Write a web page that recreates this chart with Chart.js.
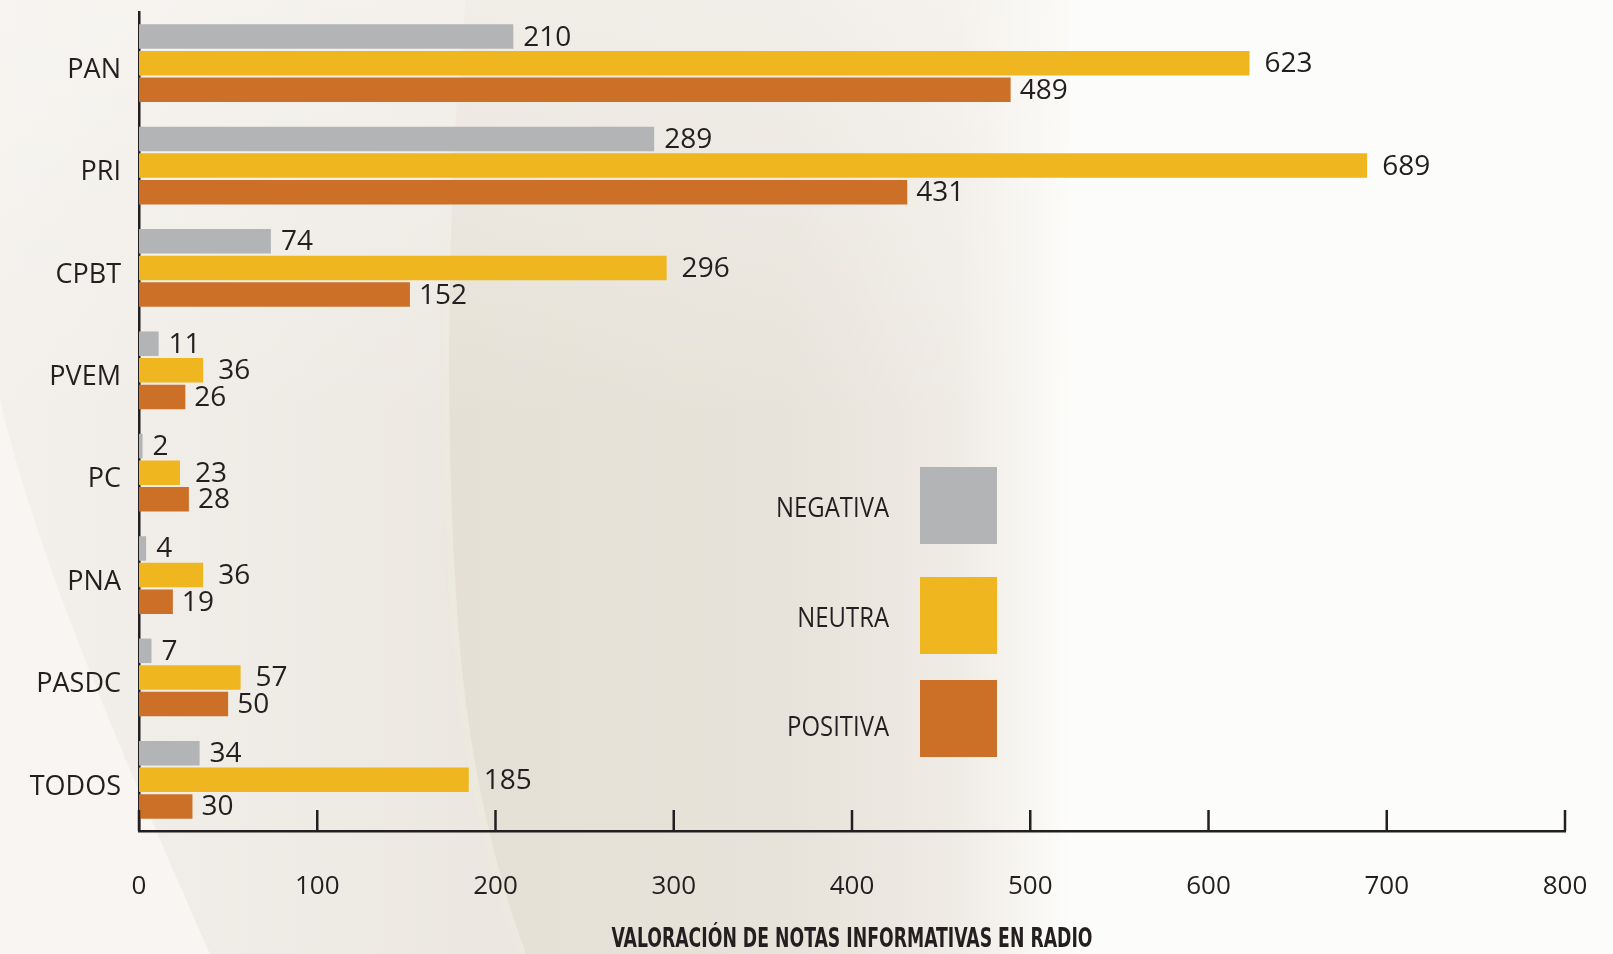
<!DOCTYPE html>
<html>
<head>
<meta charset="utf-8">
<script src="https://cdn.jsdelivr.net/npm/chart.js@4"></script>
<style>
  html, body { margin: 0; padding: 0; background: #f6f3ef; }
  #wrap { width: 1613px; height: 954px; position: relative; }
</style>
</head>
<body>
<div id="wrap"><canvas id="canvas"></canvas></div>
<script>
/* Data. */
const parties = ["PAN", "PRI", "CPBT", "PVEM", "PC", "PNA", "PASDC", "TODOS"]
const negativa = [210, 289, 74, 11, 2, 4, 7, 34]
const neutra = [623, 689, 296, 36, 23, 36, 57, 185]
const positiva = [489, 431, 152, 26, 28, 19, 50, 30]
const seriesNames = ["NEGATIVA", "NEUTRA", "POSITIVA"]
const xTicks = [0, 100, 200, 300, 400, 500, 600, 700, 800]
const axisTitle = "VALORACIÓN DE NOTAS INFORMATIVAS EN RADIO"

const ink = "#231f20"
const colors = ["#b3b4b6", "#efb61f", "#cc7028"]
const labelGaps = [10, 15, 9]

/* Paper background with the beige swoosh. */
const background = {
  id: "background",
  beforeDraw: chart => {
    const ctx = chart.ctx
    const w = chart.width
    const h = chart.height
    ctx.save()
    ctx.fillStyle = "#fcfcfa"
    ctx.fillRect(0, 0, w, h)

    /* left part, up to the swoosh edge */
    let g = ctx.createLinearGradient(0, 0, 470, 0)
    g.addColorStop(0, "#f3f0ec")
    g.addColorStop(1, "#ece8e1")
    ctx.fillStyle = g
    ctx.beginPath()
    ctx.moveTo(0, 0)
    ctx.lineTo(470, 0)
    ctx.lineTo(530, h)
    ctx.lineTo(0, h)
    ctx.closePath()
    ctx.fill()

    /* main beige area */
    g = ctx.createLinearGradient(440, 0, 1070, 0)
    g.addColorStop(0, "#e5e0d5")
    g.addColorStop(0.55, "#e7e3da")
    g.addColorStop(0.82, "#efebe5")
    g.addColorStop(0.93, "#f8f6f2")
    g.addColorStop(1, "#fcfcfa")
    ctx.fillStyle = g
    ctx.beginPath()
    ctx.moveTo(458, 0)
    ctx.bezierCurveTo(440, 150, 436, 420, 449, 608)
    ctx.bezierCurveTo(458, 760, 490, 880, 518, h)
    ctx.lineTo(1070, h)
    ctx.lineTo(1070, 0)
    ctx.closePath()
    ctx.fill()

    /* lighter towards the top */
    g = ctx.createLinearGradient(0, 0, 0, 420)
    g.addColorStop(0, "rgba(250, 248, 245, 0.55)")
    g.addColorStop(1, "rgba(250, 248, 245, 0)")
    ctx.fillStyle = g
    ctx.fillRect(0, 0, 1070, 420)

    /* soft highlight along the swoosh edge */
    ctx.strokeStyle = "rgba(250, 248, 244, 0.35)"
    ctx.lineWidth = 8
    ctx.beginPath()
    ctx.moveTo(462, 0)
    ctx.bezierCurveTo(444, 150, 440, 420, 453, 608)
    ctx.bezierCurveTo(462, 760, 494, 880, 522, h)
    ctx.stroke()

    /* light area bottom left */
    ctx.fillStyle = "#f8f5f2"
    ctx.beginPath()
    ctx.moveTo(0, 400)
    ctx.bezierCurveTo(40, 570, 130, 770, 210, h)
    ctx.lineTo(0, h)
    ctx.closePath()
    ctx.fill()
    ctx.restore()
  }
}

/* Small upward tick marks on the x axis. */
const axisTicks = {
  id: "axisTicks",
  afterDraw: chart => {
    const ctx = chart.ctx
    const x = chart.scales.x
    const bottom = chart.chartArea.bottom
    ctx.save()
    ctx.strokeStyle = ink
    ctx.lineWidth = 2.5
    xTicks.forEach(v => {
      const px = x.getPixelForValue(v)
      ctx.beginPath()
      ctx.moveTo(px, bottom)
      ctx.lineTo(px, bottom - 21)
      ctx.stroke()
    })
    ctx.restore()
  }
}

/* Axis title, condensed bold, centred under the plot. */
const axisTitleText = {
  id: "axisTitleText",
  afterDraw: chart => {
    const ctx = chart.ctx
    const area = chart.chartArea
    ctx.save()
    ctx.fillStyle = ink
    ctx.font = "bold 26px 'Liberation Sans Narrow', 'DejaVu Sans Condensed', sans-serif"
    ctx.textAlign = "center"
    ctx.textBaseline = "middle"
    const sx = 481 / ctx.measureText(axisTitle).width
    ctx.translate((area.left + area.right) / 2, 940)
    ctx.scale(sx, 1)
    ctx.fillText(axisTitle, 0, 0)
    ctx.restore()
  }
}

/* Value labels after each bar. */
const valueLabels = {
  id: "valueLabels",
  afterDatasetsDraw: chart => {
    const ctx = chart.ctx
    ctx.save()
    ctx.fillStyle = ink
    ctx.font = "28px 'Open Sans', sans-serif"
    ctx.textAlign = "left"
    ctx.textBaseline = "middle"
    chart.data.datasets.forEach((ds, i) => {
      chart.getDatasetMeta(i).data.forEach((bar, j) => {
        ctx.fillText(ds.data[j], bar.x + labelGaps[i], bar.y + 1)
      })
    })
    ctx.restore()
  }
}

/* Legend: label on the left, big square on the right. */
const sideLegend = {
  id: "sideLegend",
  afterDraw: chart => {
    const ctx = chart.ctx
    const boxX = 920
    const boxSize = 77
    const boxTops = [467, 577, 680]
    const textYs = [509, 619, 728]
    ctx.save()
    ctx.font = "27px 'Open Sans', sans-serif"
    ctx.textAlign = "right"
    ctx.textBaseline = "middle"
    chart.data.datasets.forEach((ds, i) => {
      ctx.fillStyle = ds.backgroundColor
      ctx.fillRect(boxX, boxTops[i], boxSize, boxSize)
      ctx.fillStyle = ink
      ctx.save()
      ctx.translate(889, textYs[i])
      ctx.scale(0.885, 1)
      ctx.fillText(ds.label, 0, 0)
      ctx.restore()
    })
    ctx.restore()
  }
}

const ctx = document.getElementById("canvas").getContext("2d")
const chart = new Chart(ctx, {
  type: "bar",
  data: {
    labels: parties,
    datasets: [{
      label: seriesNames[0],
      data: negativa,
      backgroundColor: colors[0]
    }, {
      label: seriesNames[1],
      data: neutra,
      backgroundColor: colors[1]
    }, {
      label: seriesNames[2],
      data: positiva,
      backgroundColor: colors[2]
    }]
  },
  options: {
    indexAxis: "y",
    responsive: true,
    maintainAspectRatio: false,
    animation: false,
    categoryPercentage: 0.78,
    barPercentage: 0.92,
    layout: {
      padding: { left: 0, right: 48, top: 12, bottom: 0 }
    },
    scales: {
      x: {
        min: 0,
        max: 800,
        afterFit: scale => {
          scale.height = 123
          scale.paddingLeft = 0
          scale.paddingRight = 0
        },
        afterBuildTicks: scale => { scale.ticks = xTicks.map(v => ({ value: v })) },
        grid: { display: false, drawTicks: false },
        border: { display: true, color: ink, width: 2.5 },
        ticks: {
          color: ink,
          padding: 40,
          maxRotation: 0,
          font: { family: "'Open Sans', sans-serif", size: 26 }
        }
      },
      y: {
        afterFit: scale => {
          scale.width = 139
          scale.paddingTop = 0
          scale.paddingBottom = 0
        },
        grid: { display: false, drawTicks: false },
        border: { display: true, color: ink, width: 2.5 },
        ticks: {
          color: ink,
          padding: 18,
          labelOffset: 7,
          font: { family: "'Open Sans', sans-serif", size: 27 }
        }
      }
    },
    plugins: {
      legend: { display: false },
      tooltip: { enabled: false }
    }
  },
  plugins: [background, axisTicks, axisTitleText, valueLabels, sideLegend]
})
</script>
</body>
</html>
